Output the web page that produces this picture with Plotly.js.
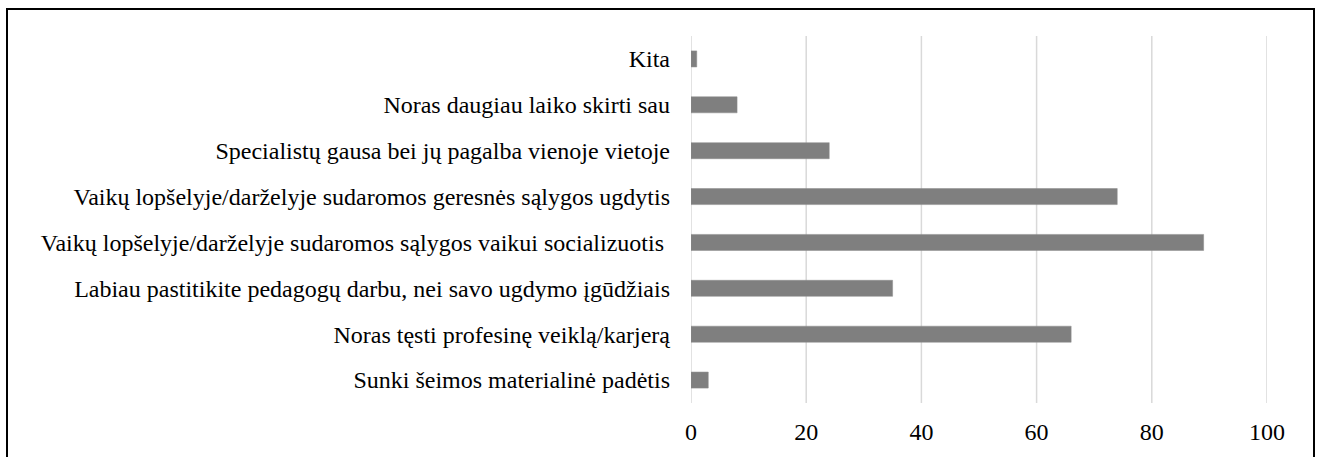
<!DOCTYPE html>
<html>
<head>
<meta charset="utf-8">
<script src="https://cdn.plot.ly/plotly-3.0.1.min.js"></script>
<style>
  html, body { margin: 0; padding: 0; background: #fff; }
  #wrap { position: relative; width: 1322px; height: 457px; overflow: hidden; }
  #chart { position: absolute; left: 0; top: 0; width: 1322px; height: 457px; }
  #frame { position: absolute; left: 6px; top: 8px; width: 1305px; height: 470px;
           border: 2px solid #000; pointer-events: none; }
</style>
</head>
<body>
<div id="wrap">
  <div id="chart"></div>
  <div id="frame"></div>
</div>
<script>
// Categories, bottom to top as drawn
const categories = [
  "Sunki šeimos materialinė padėtis",
  "Noras tęsti profesinę veiklą/karjerą",
  "Labiau pastitikite pedagogų darbu, nei savo ugdymo įgūdžiais",
  "Vaikų lopšelyje/darželyje sudaromos sąlygos vaikui socializuotis ",
  "Vaikų lopšelyje/darželyje sudaromos geresnės sąlygos ugdytis",
  "Specialistų gausa bei jų pagalba vienoje vietoje",
  "Noras daugiau laiko skirti sau",
  "Kita"
];
const values = [3, 66, 35, 89, 74, 24, 8, 1];
const xTicks = [0, 20, 40, 60, 80, 100];

const font = { family: "'Liberation Serif', 'Times New Roman', serif", size: 24, color: "#000" };

const gridShapes = xTicks.map(v => ({
  type: "line", xref: "x", yref: "paper", x0: v, x1: v, y0: 0, y1: 1,
  line: { color: "#d9d9d9", width: 1.5 }, layer: "below"
}));

Plotly.newPlot("chart", [{
  type: "bar",
  orientation: "h",
  y: categories,
  x: values,
  marker: { color: "#7f7f7f", line: { color: "#8c8c8c", width: 0.5 } },
  hoverinfo: "x+y"
}], {
  width: 1322, height: 457,
  margin: { l: 691, r: 55, t: 36, b: 54, pad: 0 },
  paper_bgcolor: "#fff", plot_bgcolor: "#fff",
  font: font,
  bargap: 0.65,
  showlegend: false,
  shapes: gridShapes,
  xaxis: {
    range: [0, 100], tickvals: xTicks, ticktext: xTicks.map(String),
    showgrid: false,
    zeroline: false, showline: false, ticks: "",
    ticklabelstandoff: 12,
    tickfont: font, fixedrange: true
  },
  yaxis: {
    type: "category", categoryorder: "array", categoryarray: categories,
    showgrid: false, zeroline: false, showline: false, ticks: "",
    ticklabelstandoff: 20,
    tickfont: font, fixedrange: true
  }
}, { displayModeBar: false, staticPlot: true });
</script>
</body>
</html>
